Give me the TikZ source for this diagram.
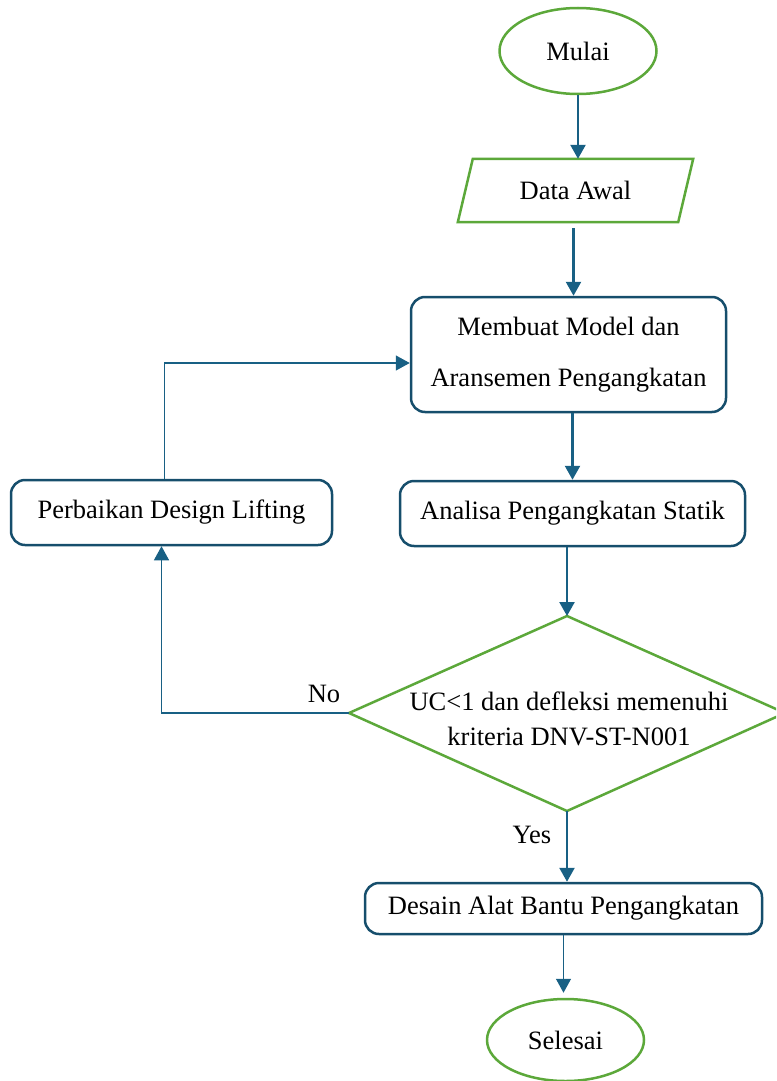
\documentclass[tikz,border=0pt]{standalone}
\usepackage{fontspec}
\setmainfont{Liberation Serif}
\usetikzlibrary{shapes.geometric,arrows.meta,calc}
\definecolor{fgreen}{RGB}{92,168,58}
\definecolor{fblue}{RGB}{24,96,132}
\definecolor{bblue}{RGB}{22,78,108}
\begin{document}
\begin{tikzpicture}[x=1pt,y=-1pt,
  txt/.style={font=\fontsize{26.5}{32}\selectfont, text=black},
  term/.style={txt, ellipse, draw=fgreen, line width=2.5pt, inner sep=0pt},
  proc/.style={txt, rectangle, rounded corners=14pt, draw=bblue, line width=2.5pt, inner sep=0pt},
  flow/.style={draw=fblue, line width=2.5pt, -{Triangle[length=14pt,width=15pt]}},
  thinflow/.style={draw=fblue, line width=1.3pt, -{Triangle[length=14pt,width=15pt]}},
]
\clip (0,0) rectangle (776,1081);
\path[use as bounding box] (0,0) rectangle (776,1081);

% nodes
\node[term, minimum width=157pt, minimum height=86pt] (mulai) at (578,51) {Mulai};
\node[txt, rectangle, minimum width=220pt, minimum height=63pt, inner sep=0pt] (data) at (575.5,190.5) {Data Awal};
\draw[fgreen, line width=2.5pt] ($(data.south west)+(-7.5,0)$) -- ($(data.north west)+(7.5,0)$)
  -- ($(data.north east)+(7.5,0)$) -- ($(data.south east)+(-7.5,0)$) -- cycle;
\node[proc, minimum width=315pt, minimum height=115pt, align=center,
  font=\fontsize{26.5}{51}\selectfont] (membuat) at (568.5,354.5)
  {Membuat Model dan\\Aransemen Pengangkatan};
\node[proc, minimum width=345pt, minimum height=65pt] (analisa) at (572.5,513.5) {Analisa Pengangkatan Statik};
\node[proc, minimum width=321pt, minimum height=65pt] (perbaikan) at (171.5,512.5) {Perbaikan Design Lifting};

\coordinate (dtop) at (567,616);
\coordinate (dbot) at (567,811);
\coordinate (dleft) at (349,713);
\coordinate (dright) at (785,713);
\draw[fgreen, line width=2.5pt] (dtop) -- (dright) -- (dbot) -- (dleft) -- cycle;
\node[txt, align=center, font=\fontsize{26.5}{35}\selectfont] (dec) at (569,719)
  {UC<1 dan defleksi memenuhi\\kriteria DNV-ST-N001};

\node[proc, minimum width=397pt, minimum height=51pt] (desain) at (563.5,908.5) {Desain Alat Bantu Pengangkatan};
\node[term, minimum width=157pt, minimum height=82pt] (selesai) at (565.5,1040) {Selesai};

\node[txt] (no) at (324,694) {No};
\node[txt] (yes) at (532,835) {Yes};

% helper coordinates for connector ends
\coordinate (dataout) at ($(data.south)+(-2,6)$);
\coordinate (membuatin) at (dataout |- membuat.north);
\coordinate (membuatout) at ($(membuat.south)+(4,0)$);
\coordinate (analisain) at (membuatout |- analisa.north);
\coordinate (analisaout) at (dtop |- analisa.south);
\coordinate (desainin) at (dbot |- desain.north);
\coordinate (fbdown) at ($(perbaikan.south)+(-10,0)$);
\coordinate (fbup) at ($(perbaikan.north)+(-7,0)$);
\coordinate (membuatleft) at ($(membuat.west)+(0,8.5)$);

% connectors
\draw[flow] (mulai.south) -- (mulai.south |- data.north);
\draw[flow] (dataout) -- (membuatin);
\draw[flow] (membuatout) -- (analisain);
\draw[flow] (analisaout) -- (dtop);
\draw[flow] (dbot) -- (desainin);
\draw[thinflow, shorten >=5pt] (desain.south) -- (desain.south |- selesai.north);
\draw[thinflow] (dleft) -| (fbdown);
\draw[thinflow] (fbup) |- (membuatleft);
\end{tikzpicture}
\end{document}
